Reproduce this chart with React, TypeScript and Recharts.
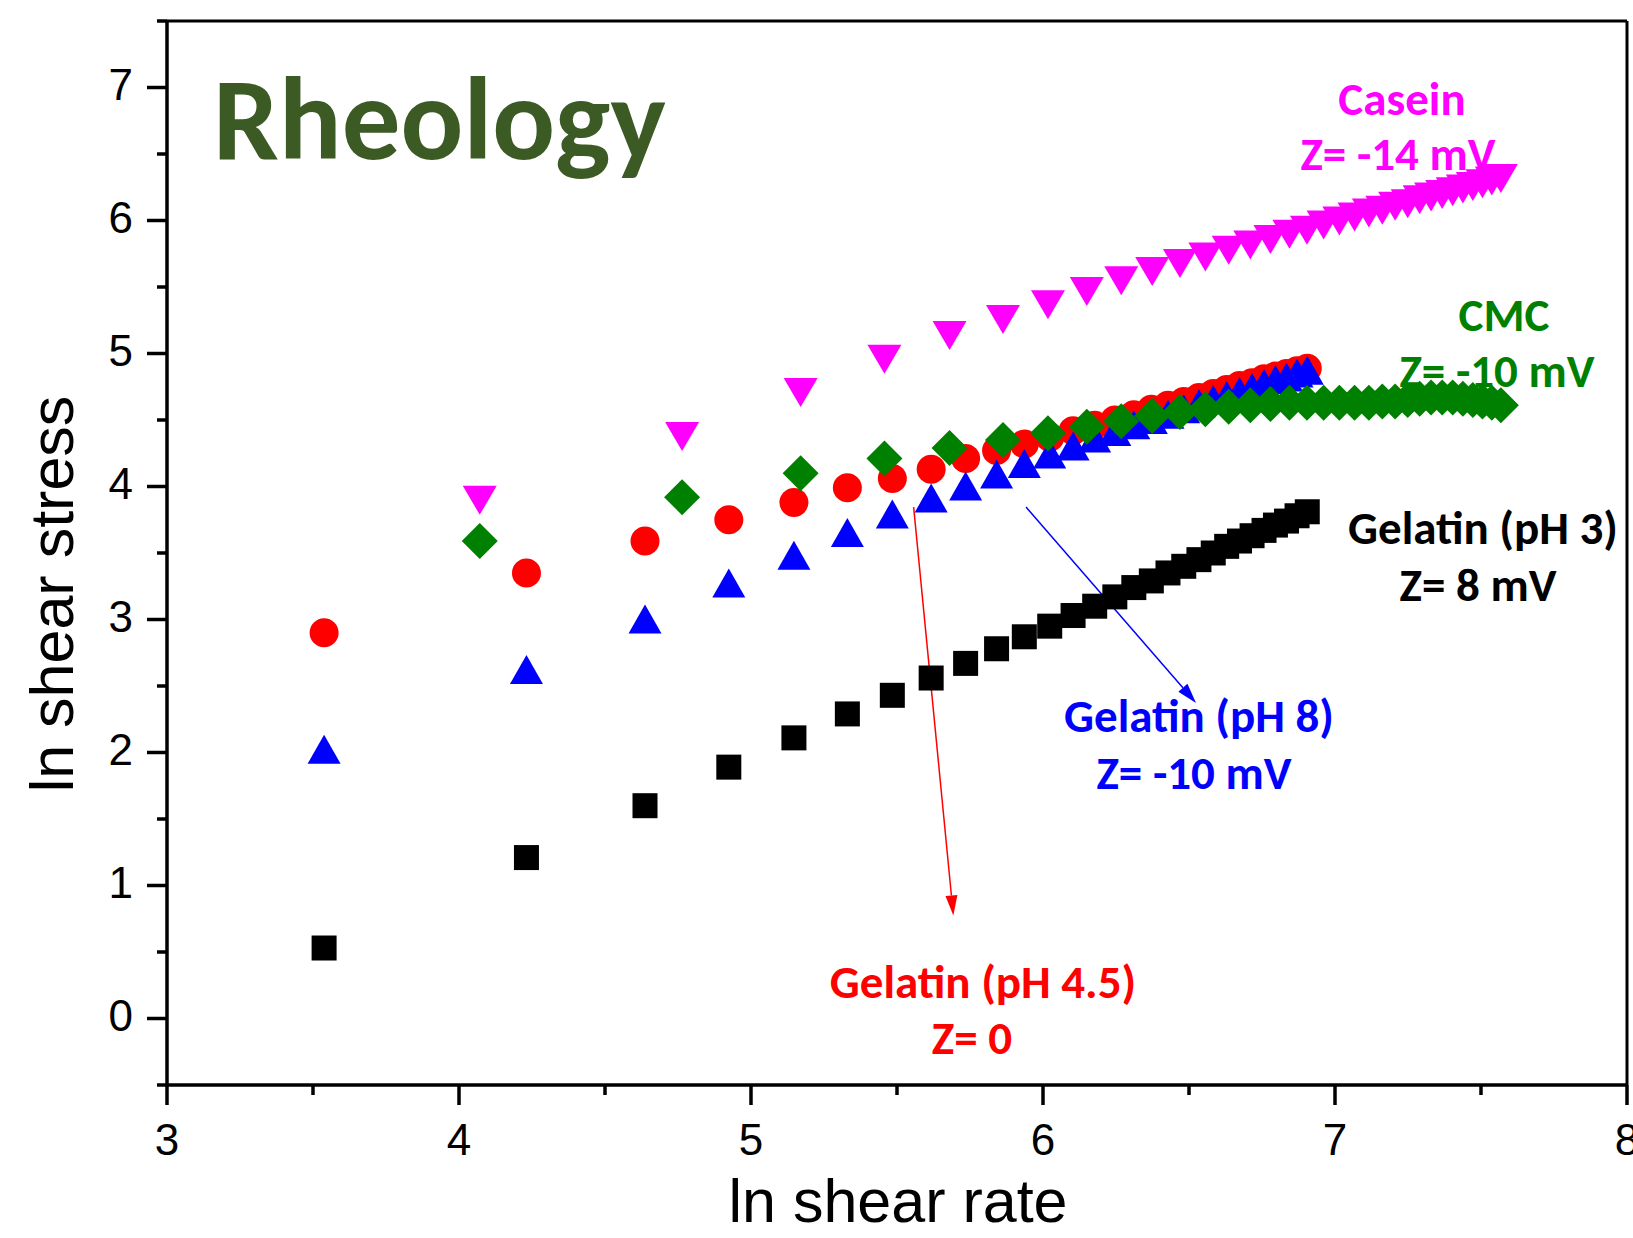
import { ScatterChart, Scatter, XAxis, YAxis, ReferenceLine } from 'recharts';

const W = 1633;
const H = 1238;

// ln shear rate, two measurement grids
const rateA = [3.538, 4.231, 4.637, 4.924, 5.147, 5.33, 5.484, 5.617, 5.735, 5.841, 5.936, 6.023, 6.103, 6.177, 6.246, 6.311, 6.371, 6.428, 6.482, 6.534, 6.583, 6.629, 6.673, 6.716, 6.757, 6.796, 6.834, 6.87, 6.905];
const rateB = [4.071, 4.764, 5.17, 5.457, 5.68, 5.863, 6.017, 6.15, 6.268, 6.374, 6.469, 6.556, 6.636, 6.71, 6.779, 6.844, 6.904, 6.961, 7.015, 7.067, 7.116, 7.162, 7.206, 7.249, 7.29, 7.329, 7.367, 7.403, 7.438, 7.472, 7.505, 7.537, 7.568];

// ln shear stress
const gelatinPH3 = [0.53, 1.21, 1.6, 1.89, 2.11, 2.29, 2.43, 2.56, 2.67, 2.78, 2.87, 2.95, 3.03, 3.1, 3.17, 3.24, 3.29, 3.35, 3.4, 3.45, 3.5, 3.55, 3.59, 3.63, 3.67, 3.71, 3.74, 3.78, 3.81];
const gelatinPH45 = [2.9, 3.35, 3.59, 3.75, 3.88, 3.99, 4.06, 4.13, 4.21, 4.27, 4.32, 4.37, 4.42, 4.46, 4.5, 4.54, 4.58, 4.61, 4.64, 4.67, 4.7, 4.73, 4.76, 4.78, 4.81, 4.83, 4.85, 4.87, 4.89];
const gelatinPH8 = [2.02, 2.62, 3.0, 3.27, 3.48, 3.65, 3.79, 3.91, 4.0, 4.09, 4.17, 4.24, 4.3, 4.36, 4.41, 4.46, 4.5, 4.54, 4.58, 4.62, 4.65, 4.68, 4.71, 4.74, 4.77, 4.8, 4.82, 4.85, 4.87];
const cmc = [3.59, 3.92, 4.1, 4.21, 4.29, 4.35, 4.4, 4.45, 4.49, 4.53, 4.56, 4.58, 4.6, 4.61, 4.62, 4.63, 4.63, 4.63, 4.63, 4.63, 4.63, 4.64, 4.64, 4.65, 4.66, 4.67, 4.67, 4.67, 4.66, 4.65, 4.64, 4.63, 4.61];
const casein = [3.9, 4.38, 4.71, 4.96, 5.14, 5.26, 5.37, 5.47, 5.55, 5.62, 5.68, 5.73, 5.78, 5.82, 5.86, 5.9, 5.93, 5.97, 6.0, 6.03, 6.06, 6.08, 6.11, 6.13, 6.16, 6.18, 6.2, 6.22, 6.24, 6.26, 6.28, 6.3, 6.32];

const xTicks = [3, 3.5, 4, 4.5, 5, 5.5, 6, 6.5, 7, 7.5, 8];
const yTicks = [-0.5, 0, 0.5, 1, 1.5, 2, 2.5, 3, 3.5, 4, 4.5, 5, 5.5, 6, 6.5, 7, 7.5];

// arrow annotations (data coords)
const redArrow = [{ x: 5.557, y: 3.845 }, { x: 5.693, y: 0.775 }];
const blueArrow = [{ x: 5.942, y: 3.845 }, { x: 6.524, y: 2.373 }];

const AXIS_FONT = '"Liberation Sans", Arial, sans-serif';
const NOTE_FONT = 'Carlito, Lato, "Open Sans", sans-serif';

const toPoints = (xs: number[], ys: number[]) => xs.map((x, i) => ({ x, y: ys[i] }));

const square = (p: any) => <rect x={p.cx - 12.5} y={p.cy - 12.5} width={25} height={25} fill="#000000" />;
const circle = (p: any) => <circle cx={p.cx} cy={p.cy} r={14.5} fill="#FF0000" />;
const triUp = (p: any) => (
  <polygon points={`${p.cx},${p.cy - 15} ${p.cx + 16.5},${p.cy + 14} ${p.cx - 16.5},${p.cy + 14}`} fill="#0000FF" />
);
const diamond = (p: any) => (
  <polygon points={`${p.cx},${p.cy - 18} ${p.cx + 18},${p.cy} ${p.cx},${p.cy + 18} ${p.cx - 18},${p.cy}`} fill="#008000" />
);
const triDown = (p: any) => (
  <polygon points={`${p.cx - 17},${p.cy - 14} ${p.cx + 17},${p.cy - 14} ${p.cx},${p.cy + 15}`} fill="#FF00FF" />
);

const arrow = (color: string) => (p: any) => {
  const { x1, y1, x2, y2 } = p;
  const a = Math.atan2(y2 - y1, x2 - x1);
  const L = 20;
  const hw = 6;
  const bx = x2 - L * Math.cos(a);
  const by = y2 - L * Math.sin(a);
  return (
    <g>
      <line x1={x1} y1={y1} x2={bx} y2={by} stroke={color} strokeWidth={1.5} />
      <polygon
        points={`${x2},${y2} ${bx + hw * Math.sin(a)},${by - hw * Math.cos(a)} ${bx - hw * Math.sin(a)},${by + hw * Math.cos(a)}`}
        fill={color}
      />
    </g>
  );
};

function YTick(props: any) {
  const { x, y, payload } = props;
  const major = Number.isInteger(payload.value);
  return (
    <g>
      <line x1={x} x2={x - (major ? 20 : 10)} y1={y} y2={y} stroke="#000" strokeWidth={3.5} />
      {major && (
        <text x={x - 34} y={y + 12.5} textAnchor="end" fontSize={44} fontFamily={AXIS_FONT} fill="#000">
          {payload.value}
        </text>
      )}
    </g>
  );
}

function XTick(props: any) {
  const { x, y, payload } = props;
  const major = Number.isInteger(payload.value);
  return (
    <g>
      <line x1={x} x2={x} y1={y} y2={y + (major ? 20 : 10)} stroke="#000" strokeWidth={3.5} />
      {major && (
        <text x={x} y={y + 70} textAnchor="middle" fontSize={44} fontFamily={AXIS_FONT} fill="#000">
          {payload.value}
        </text>
      )}
    </g>
  );
}

const notes = [
  { text: 'Casein', x: 1402, y: 115, color: '#FF00FF' },
  { text: 'Z= -14 mV', x: 1398, y: 170, color: '#FF00FF' },
  { text: 'CMC', x: 1504, y: 331, color: '#008000' },
  { text: 'Z= -10 mV', x: 1497, y: 387, color: '#008000' },
  { text: 'Gelatin (pH 3)', x: 1483, y: 544, color: '#000000' },
  { text: 'Z= 8 mV', x: 1478, y: 601, color: '#000000' },
  { text: 'Gelatin (pH 8)', x: 1199, y: 732, color: '#0000FF' },
  { text: 'Z= -10 mV', x: 1194, y: 789, color: '#0000FF' },
  { text: 'Gelatin (pH 4.5)', x: 983, y: 998, color: '#FF0000' },
  { text: 'Z= 0', x: 972, y: 1054, color: '#FF0000' },
];

export default function App() {
  return (
    <div style={{ position: 'relative', width: W, height: H, background: '#fff' }}>
      <style>{`body{margin:0}`}</style>
      <ScatterChart width={W} height={H} margin={{ top: 21, right: 6, bottom: 93, left: 107 }}>
        <XAxis
          type="number"
          dataKey="x"
          domain={[3, 8]}
          ticks={xTicks}
          interval={0}
          height={60}
          tickSize={0}
          tickMargin={0}
          tick={<XTick />}
          axisLine={{ stroke: '#000', strokeWidth: 3.5 }}
          allowDataOverflow
        />
        <YAxis
          type="number"
          dataKey="y"
          domain={[-0.5, 7.5]}
          ticks={yTicks}
          interval={0}
          width={60}
          tickSize={0}
          tickMargin={0}
          tick={<YTick />}
          axisLine={{ stroke: '#000', strokeWidth: 3.5 }}
          allowDataOverflow
        />
        <ReferenceLine y={7.5} stroke="#000" strokeWidth={3} />
        <ReferenceLine x={8} stroke="#000" strokeWidth={3} />
        <ReferenceLine segment={redArrow} shape={arrow('#FF0000')} />
        <ReferenceLine segment={blueArrow} shape={arrow('#0000FF')} />
        <Scatter data={toPoints(rateA, gelatinPH3)} shape={square} isAnimationActive={false} />
        <Scatter data={toPoints(rateA, gelatinPH45)} shape={circle} isAnimationActive={false} />
        <Scatter data={toPoints(rateA, gelatinPH8)} shape={triUp} isAnimationActive={false} />
        <Scatter data={toPoints(rateB, cmc)} shape={diamond} isAnimationActive={false} />
        <Scatter data={toPoints(rateB, casein)} shape={triDown} isAnimationActive={false} />
      </ScatterChart>
      <svg width={W} height={H} style={{ position: 'absolute', left: 0, top: 0, pointerEvents: 'none' }}>
        <text x={213} y={159} fontSize={117} fontWeight={700} fontFamily={NOTE_FONT} fill="#3B5A24">
          Rheology
        </text>
        {notes.map((n, i) => (
          <text key={i} x={n.x} y={n.y} textAnchor="middle" fontSize={47} fontWeight={700} fontFamily={NOTE_FONT} fill={n.color}>
            {n.text}
          </text>
        ))}
        <text x={898} y={1222} textAnchor="middle" fontSize={61} fontFamily={AXIS_FONT} fill="#000">
          ln shear rate
        </text>
        <text
          x={0}
          y={0}
          transform="translate(73,594) rotate(-90)"
          textAnchor="middle"
          fontSize={61}
          fontFamily={AXIS_FONT}
          fill="#000"
        >
          ln shear stress
        </text>
      </svg>
    </div>
  );
}
